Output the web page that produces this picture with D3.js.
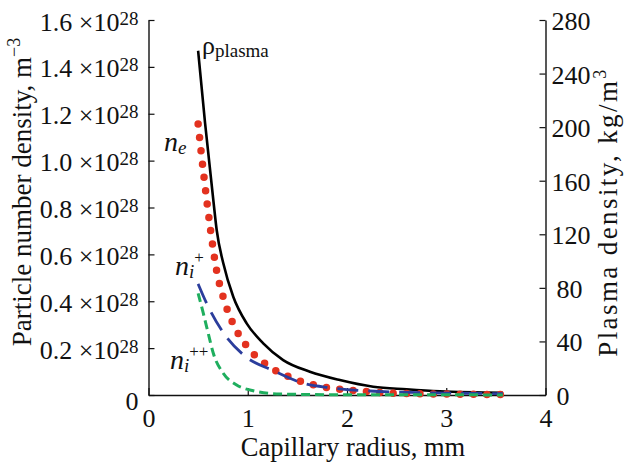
<!DOCTYPE html>
<html>
<head>
<meta charset="utf-8">
<script src="https://cdn.jsdelivr.net/npm/d3@7"></script>
<style>
  body { margin: 0; background: #fff; }
</style>
</head>
<body>
<div id="container"></div>
<script>
/* DATA */
// plasma mass density, kg/m^3 (right axis)
const radiusPlasma = [0.5, 0.57, 0.653, 0.687, 0.753, 0.854, 0.989, 1.156, 1.357, 1.626, 1.928, 2.264, 2.6, 2.935, 3.57];
const plasmaDensity = [257, 203, 145.6, 123.2, 98.5, 73.4, 53.5, 38.6, 26.1, 17.4, 11.2, 6.2, 4.3, 2.8, 1.7];

// number densities, units of 1e28 m^-3 (left axis)
const radiusNe = [0.5, 0.559, 0.626, 0.687, 0.753, 0.848, 0.989, 1.183, 1.418, 1.684, 1.946, 2.228, 2.5, 3.04, 3.57];
const nElectron = [1.156, 0.930, 0.701, 0.529, 0.417, 0.308, 0.209, 0.131, 0.077, 0.041, 0.024, 0.014, 0.007, 0.004, 0.002];

const radiusNi1 = [0.5, 0.586, 0.747, 0.972, 1.257, 1.559, 1.828, 2.231, 2.895, 3.57];
const nIon1 = [0.474, 0.391, 0.270, 0.166, 0.104, 0.050, 0.031, 0.017, 0.009, 0.006];

const radiusNi2 = [0.5, 0.552, 0.602, 0.653, 0.753, 0.888, 1.055, 1.324, 2.0, 3.57];
const nIon2 = [0.434, 0.349, 0.263, 0.178, 0.093, 0.043, 0.018, 0.004, 0.001, 0.0005];

/* TICKS */
const xTicks = [0, 1, 2, 3, 4];
const yLeftTicks = [0, 0.2, 0.4, 0.6, 0.8, 1.0, 1.2, 1.4, 1.6];
const yRightTicks = [0, 40, 80, 120, 160, 200, 240, 280];

/* CONSTANTS */
const width = 625, height = 462,
  margin = { top: 20, right: 79.5, bottom: 67, left: 148.5 };
const serif = "'Liberation Serif', 'Times New Roman', serif";

const svg = d3.select("#container")
  .append("svg")
  .attr("width", width)
  .attr("height", height)
  .attr("font-family", serif)
  .attr("fill", "#111");

/* SCALES */
const x = d3.scaleLinear().domain([0, 4]).range([margin.left, width - margin.right]);
const yL = d3.scaleLinear().domain([0, 1.6]).range([height - margin.bottom, margin.top]);
const yR = d3.scaleLinear().domain([0, 280]).range([height - margin.bottom, margin.top]);

/* AXES */
const axisStyle = g => {
  g.attr("font-family", serif).attr("font-size", 26);
  g.select(".domain").attr("stroke", "#111").attr("stroke-width", 1.4);
  g.selectAll(".tick line").attr("stroke", "#111").attr("stroke-width", 1.2);
  g.selectAll("text").attr("fill", "#111");
};

// bottom
svg.append("g")
  .attr("transform", `translate(0,${height - margin.bottom})`)
  .call(d3.axisBottom(x).tickValues(xTicks).tickFormat(d3.format("d")).tickSize(-7).tickSizeOuter(0))
  .call(axisStyle)
  .call(g => g.selectAll(".tick text").attr("dy", null).attr("y", 32));

// left, with "a ×10^28" labels
svg.append("g")
  .attr("transform", `translate(${margin.left},0)`)
  .call(d3.axisLeft(yL).tickValues(yLeftTicks).tickSize(-6).tickSizeOuter(0).tickPadding(10).tickFormat(""))
  .call(axisStyle)
  .call(g => g.selectAll(".tick text").each(function(d) {
    const t = d3.select(this).attr("dy", 10);
    if (d === 0) { t.attr("dy", 14).text("0"); return; }
    t.append("tspan").text(d3.format(".1f")(d) + " \u00d710");
    t.append("tspan").attr("dy", -6).attr("font-size", 19).text("28");
  }));

// right
svg.append("g")
  .attr("transform", `translate(${width - margin.right},0)`)
  .call(d3.axisRight(yR).tickValues(yRightTicks).tickSize(-6).tickSizeOuter(0))
  .call(axisStyle)
  .call(g => g.selectAll(".tick text").attr("dy", 9.5).attr("x", d => d >= 100 ? 6 : 11));

/* AXIS TITLES */
svg.append("text")
  .attr("x", 353)
  .attr("y", 456)
  .attr("text-anchor", "middle")
  .attr("font-size", 26.5)
  .text("Capillary radius, mm");

const leftTitle = svg.append("text")
  .attr("transform", "translate(31,192) rotate(-90)")
  .attr("text-anchor", "middle")
  .attr("font-size", 27);
leftTitle.append("tspan").text("Particle number density, m");
leftTitle.append("tspan").attr("dy", -11).attr("font-size", 18).text("\u22123");

const rightTitle = svg.append("text")
  .attr("transform", "translate(617,212) rotate(-90)")
  .attr("text-anchor", "middle")
  .attr("font-size", 27)
  .attr("letter-spacing", 2.4);
rightTitle.append("tspan").text("Plasma density, kg/m");
rightTitle.append("tspan").attr("dy", -11).attr("font-size", 18).text("3");

/* LINES */
const lineL = d3.line().x(d => x(d[0])).y(d => yL(d[1])).curve(d3.curveMonotoneX);
const lineR = d3.line().x(d => x(d[0])).y(d => yR(d[1])).curve(d3.curveMonotoneX);

svg.append("path")
  .datum(d3.zip(radiusPlasma, plasmaDensity))
  .attr("d", lineR)
  .attr("fill", "none")
  .attr("stroke", "#000")
  .attr("stroke-width", 2.6);

svg.append("path")
  .datum(d3.zip(radiusNe, nElectron))
  .attr("d", lineL)
  .attr("fill", "none")
  .attr("stroke", "#e3321f")
  .attr("stroke-width", 7.5)
  .attr("stroke-linecap", "round")
  .attr("stroke-dasharray", "0 13.4");

svg.append("path")
  .datum(d3.zip(radiusNi1, nIon1))
  .attr("d", lineL)
  .attr("fill", "none")
  .attr("stroke", "#2b3d9c")
  .attr("stroke-width", 2.8)
  .attr("stroke-dasharray", "21 10");

svg.append("path")
  .datum(d3.zip(radiusNi2, nIon2))
  .attr("d", lineL)
  .attr("fill", "none")
  .attr("stroke", "#1fae5e")
  .attr("stroke-width", 3)
  .attr("stroke-dasharray", "9 5");

/* CURVE LABELS */
const rho = svg.append("text").attr("x", 202).attr("y", 54);
rho.append("tspan").attr("font-size", 26).text("\u03c1");
rho.append("tspan").attr("font-size", 19).attr("dy", 3).text("plasma");

const ne = svg.append("text").attr("x", 164).attr("y", 151).attr("font-style", "italic");
ne.append("tspan").attr("font-size", 28).text("n");
ne.append("tspan").attr("font-size", 19).attr("dy", 3).text("e");

// n_i with its charge written just after the subscript, raised
const addIonLabel = (lx, ly, sup) => {
  const t = svg.append("text").attr("x", lx).attr("y", ly).attr("font-style", "italic");
  t.append("tspan").attr("font-size", 28).text("n");
  t.append("tspan").attr("font-size", 19).attr("dy", 3).text("i");
  t.append("tspan").attr("dy", -15).attr("font-size", 17)
    .attr("font-style", "normal").text(sup);
};
addIonLabel(175, 275, "+");
addIonLabel(170, 369, "++");
</script>
</body>
</html>
